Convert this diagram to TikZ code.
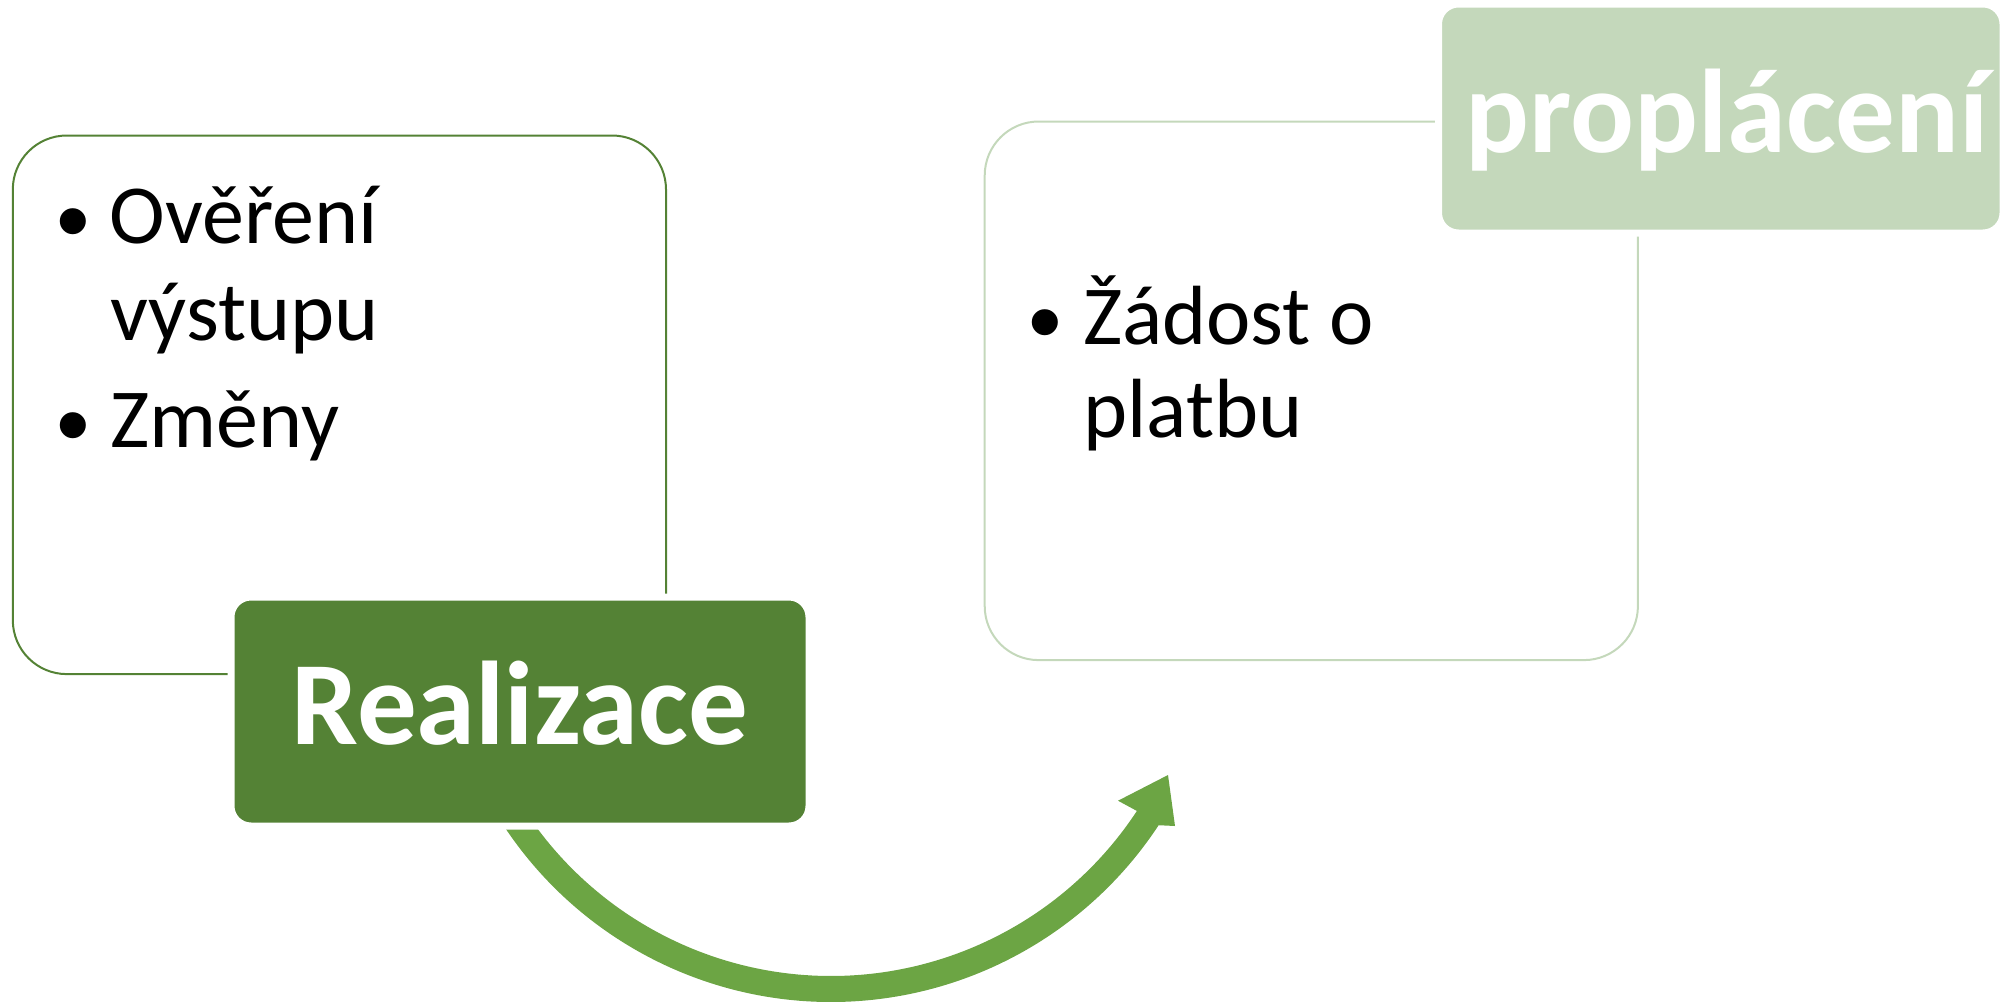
\documentclass[tikz,border=0pt]{standalone}
\usepackage{fontspec}
\setmainfont{Carlito}
\newfontfamily\bulletfont{Liberation Sans}
\definecolor{darkgreen}{HTML}{548235}
\definecolor{lightgreen}{HTML}{C4D8BB}
\definecolor{arrowgreen}{HTML}{6CA544}
\begin{document}
\begin{tikzpicture}[x=0.5pt,y=-0.5pt,
  outlinebox/.style={draw, line width=1pt, rounded corners=27pt, minimum width=326.6pt, minimum height=269.3pt, inner sep=0pt},
  titlebox/.style={draw=white, line width=3.5pt, rounded corners=10pt, minimum height=114.5pt, inner sep=0pt},
  titletext/.style={inner sep=0pt, anchor=base, text=white, font=\fontsize{59.5}{70}\selectfont\bfseries},
  bodytext/.style={inner sep=0pt, anchor=base west, font=\fontsize{42}{48}\selectfont},
  bulletglyph/.style={inner sep=0pt, anchor=base, font=\bulletfont\fontsize{48}{48}\selectfont}]
\useasboundingbox (0,0) rectangle (2005,1001);

% outline boxes
\node[outlinebox, draw=darkgreen] (leftbox) at (339.4,404.8) {};
\node[outlinebox, draw=lightgreen] (rightbox) at (1311.3,390.8) {};

% curved arrow
\coordinate (ac) at (831,610);
\fill[arrowgreen] ([shift={(ac)}]147:392) arc[start angle=147, end angle=33.3, radius=392]
  -- (1175,826) -- (1168,775) -- (1118,800.7)
  -- ([shift={(ac)}]33.3:366) arc[start angle=33.3, end angle=147, radius=366] -- cycle;

% title boxes
\node[titlebox, fill=darkgreen, minimum width=289pt] (realbox) at (520,711.5) {};
\node[titletext] (realtext) at (520,744) {Realizace};
\node[titlebox, fill=lightgreen, minimum width=282.25pt] (propbox) at (1720.75,118.5) {};
\node[titletext] (proptext) at (1727,152) {proplácení};

% left bullets
\node[bulletglyph] (lb1) at (73,253) {•};
\node[bodytext] (l1) at (109,243) {Ověření};
\node[bodytext] (l2) at (110,340) {výstupu};
\node[bulletglyph] (lb2) at (73,457.5) {•};
\node[bodytext] (l3) at (110,447.5) {Změny};

% right bullets
\node[bulletglyph] (rb1) at (1045,354) {•};
\node[bodytext] (r1) at (1083,344) {Žádost o};
\node[bodytext] (r2) at (1083,437) {platbu};
\end{tikzpicture}
\end{document}
